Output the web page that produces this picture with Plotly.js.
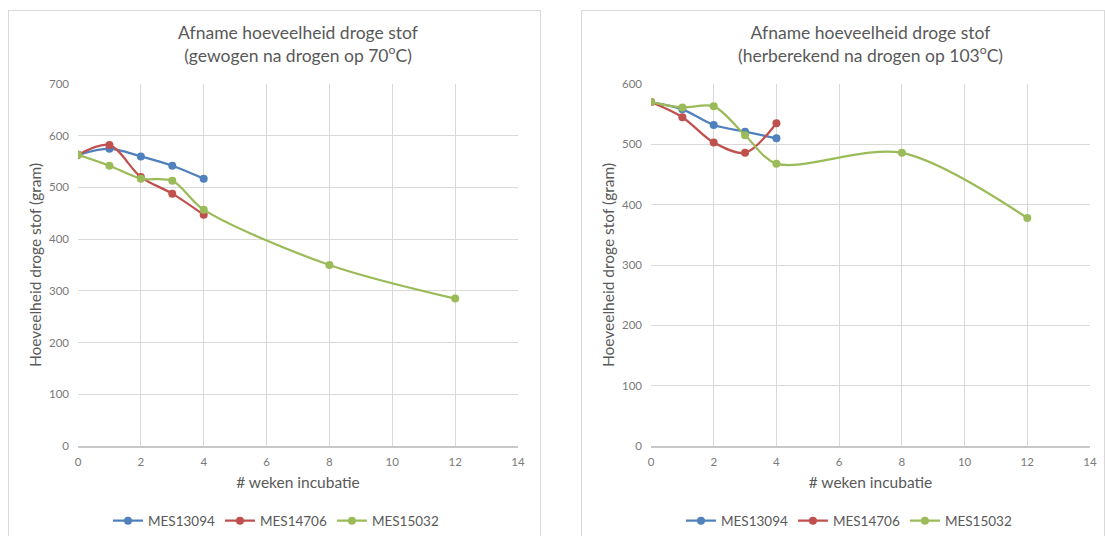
<!DOCTYPE html>
<html>
<head>
<meta charset="utf-8">
<script src="https://cdn.plot.ly/plotly-3.0.1.min.js"></script>
<style>
  html, body { margin: 0; padding: 0; background: #fff; width: 1105px; height: 536px; overflow: hidden; }
  .chart { position: absolute; border: 1px solid #D9D9D9; box-sizing: border-box; background: #fff; }
</style>
</head>
<body>
<div id="c1" class="chart" style="left:8px; top:10px; width:533px; height:542px;"></div>
<div id="c2" class="chart" style="left:581px; top:10px; width:524px; height:542px;"></div>
<script>
const seriesNames = ["MES13094", "MES14706", "MES15032"];
const seriesColors = ["#4F81BD", "#C0504D", "#9BBB59"];

// Chart 1: gewogen na drogen op 70 °C
const weeks1_MES13094 = [0, 1, 2, 3, 4];
const dm70_MES13094 = [563, 575, 560, 542, 517];
const weeks1_MES14706 = [0, 1, 2, 3, 4];
const dm70_MES14706 = [563, 582, 520, 488, 447];
const weeks1_MES15032 = [0, 1, 2, 3, 4, 8, 12];
const dm70_MES15032 = [563, 542, 517, 513, 457, 350, 285];

// Chart 2: herberekend na drogen op 103 °C
const weeks2_MES13094 = [0, 1, 2, 3, 4];
const dm103_MES13094 = [570, 558, 532, 521, 510];
const weeks2_MES14706 = [0, 1, 2, 3, 4];
const dm103_MES14706 = [570, 545, 503, 486, 535];
const weeks2_MES15032 = [0, 1, 2, 3, 4, 8, 12];
const dm103_MES15032 = [570, 561, 563, 515, 468, 486, 378];

const title1 = "Afname hoeveelheid droge stof<br>(gewogen na drogen op 70<sup>o</sup>C)";
const title2 = "Afname hoeveelheid droge stof<br>(herberekend na drogen op 103<sup>o</sup>C)";
const xTitle = "# weken incubatie";
const yTitle = "Hoeveelheid droge stof (gram)";

const FONT = "Lato, 'Open Sans', sans-serif";
const TXT = "#595959";
const TICK = "#7a7a7a";

function mkTraces(xs, ys) {
  return xs.map((x, i) => ({
    type: "scatter", mode: "lines+markers", name: seriesNames[i],
    x: x, y: ys[i],
    line: { color: seriesColors[i], width: 2.25, shape: "spline", smoothing: 0.9 },
    marker: { color: seriesColors[i], size: 8, symbol: "circle" }
  }));
}

// container height 540; plot area from 73 to 435 (362 px)
function mkLayout(title, yMax, w, l, r, legX) {
  const H = 540;
  return {
    width: w, height: H,
    margin: { l: l, r: r, t: 73, b: H - 73 - 362, autoexpand: false },
    paper_bgcolor: "#fff", plot_bgcolor: "#fff",
    font: { family: FONT, color: TXT, size: 11 },
    showlegend: true,
    title: { text: title, font: { family: FONT, size: 17.5, color: TXT }, x: 0.5, xanchor: "center", xref: "paper", y: 1 - 28 / H, yanchor: "middle", yref: "container" },
    xaxis: {
      range: [0, 14], tick0: 0, dtick: 2, showgrid: true, gridcolor: "#D9D9D9", gridwidth: 1,
      zeroline: false, showline: true, linecolor: "#C8C8C8", linewidth: 1.5,
      ticks: "", ticklabelstandoff: 5, tickfont: { family: FONT, size: 11.5, color: TICK },
      title: { text: xTitle, font: { family: FONT, size: 15.5, color: TXT }, standoff: 10 },
      automargin: false, fixedrange: true
    },
    yaxis: {
      range: [0, yMax], tick0: 0, dtick: 100, showgrid: true, gridcolor: "#D9D9D9", gridwidth: 1,
      zeroline: false, showline: false, ticks: "", ticklabelstandoff: 8,
      tickfont: { family: FONT, size: 11.5, color: TICK },
      title: { text: yTitle, font: { family: FONT, size: 15.5, color: TXT }, standoff: 3 },
      automargin: false, fixedrange: true
    },
    legend: {
      orientation: "h", x: legX, xanchor: "center", y: -0.207, yanchor: "middle",
      yref: "paper",
      font: { family: FONT, size: 13.5, color: TXT }, traceorder: "normal", itemwidth: 30
    }
  };
}

Plotly.newPlot("c1",
  mkTraces([weeks1_MES13094, weeks1_MES14706, weeks1_MES15032], [dm70_MES13094, dm70_MES14706, dm70_MES15032]),
  mkLayout(title1, 700, 531, 69, 22, 0.45),
  { staticPlot: true, displayModeBar: false });

Plotly.newPlot("c2",
  mkTraces([weeks2_MES13094, weeks2_MES14706, weeks2_MES15032], [dm103_MES13094, dm103_MES14706, dm103_MES15032]),
  mkLayout(title2, 600, 522, 69, 14, 0.451),
  { staticPlot: true, displayModeBar: false });
</script>
</body>
</html>
